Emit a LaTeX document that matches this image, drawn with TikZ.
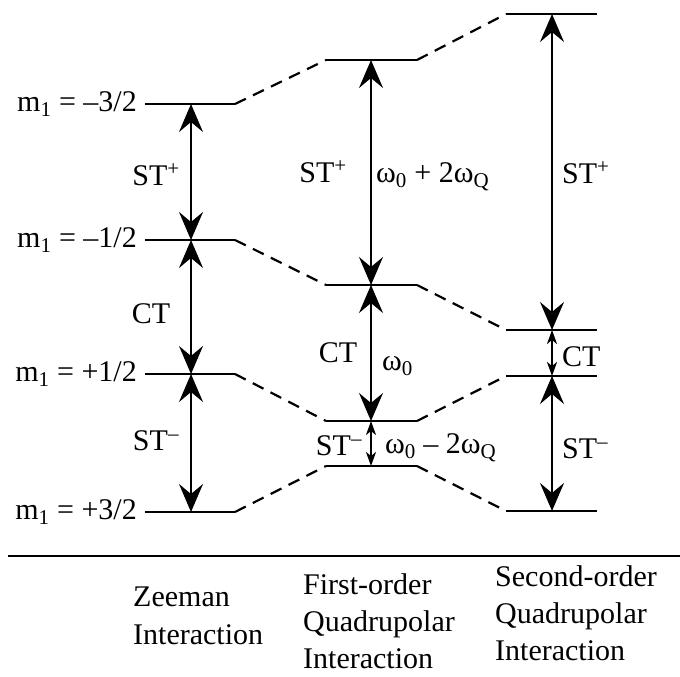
\documentclass[tikz,border=0pt]{standalone}
\usepackage{fontspec}
\setmainfont{Liberation Serif}
\usetikzlibrary{arrows.meta}
\tikzset{
  level/.style={line width=2.6pt},
  link/.style={line width=2.2pt,dash pattern=on 12pt off 8pt},
  bigtrans/.style={{Stealth[length=28pt,width=24pt,inset=10pt]}-{Stealth[length=28pt,width=24pt,inset=10pt]},line width=2pt},
  smalltrans/.style={{Stealth[length=14pt,width=10pt,inset=4pt]}-{Stealth[length=14pt,width=10pt,inset=4pt]},line width=2pt},
  lbl/.style={font=\fontsize{30}{36}\selectfont,inner sep=0pt},
  caption/.style={font=\fontsize{30}{37}\selectfont,inner sep=0pt,align=left,anchor=north west}
}

\begin{document}
\begin{tikzpicture}[x=1pt,y=-1pt]
\useasboundingbox (0,0) rectangle (680,677);

% Zeeman levels
\coordinate (zAl) at (145,104); \coordinate (zAr) at (235,104); \coordinate (zA) at (191,104);
\coordinate (zBl) at (145,240); \coordinate (zBr) at (235,240); \coordinate (zB) at (191,240);
\coordinate (zCl) at (145,374); \coordinate (zCr) at (235,374); \coordinate (zC) at (191,374);
\coordinate (zDl) at (145,512); \coordinate (zDr) at (235,512); \coordinate (zD) at (191,512);

% First-order levels
\coordinate (fAl) at (326,60);  \coordinate (fAr) at (417,60);  \coordinate (fA) at (371,60);
\coordinate (fBl) at (326,285); \coordinate (fBr) at (417,285); \coordinate (fB) at (371,285);
\coordinate (fCl) at (326,421); \coordinate (fCr) at (417,421); \coordinate (fC) at (371,421);
\coordinate (fDl) at (326,466); \coordinate (fDr) at (417,466); \coordinate (fD) at (371,466);

% Second-order levels
\coordinate (sAl) at (506,14);  \coordinate (sAr) at (597,14);  \coordinate (sA) at (552,14);
\coordinate (sBl) at (506,330); \coordinate (sBr) at (597,330); \coordinate (sB) at (552,330);
\coordinate (sCl) at (506,376); \coordinate (sCr) at (597,376); \coordinate (sC) at (552,376);
\coordinate (sDl) at (506,511); \coordinate (sDr) at (597,511); \coordinate (sD) at (552,511);

\draw[level] (zAl) -- (zAr); \draw[level] (zBl) -- (zBr);
\draw[level] (zCl) -- (zCr); \draw[level] (zDl) -- (zDr);
\draw[level] (fAl) -- (fAr); \draw[level] (fBl) -- (fBr);
\draw[level] (fCl) -- (fCr); \draw[level] (fDl) -- (fDr);
\draw[level] (sAl) -- (sAr); \draw[level] (sBl) -- (sBr);
\draw[level] (sCl) -- (sCr); \draw[level] (sDl) -- (sDr);

% Dashed correlation lines
\draw[link] (zAr) -- (fAl); \draw[link] (zBr) -- (fBl);
\draw[link] (zCr) -- (fCl); \draw[link] (zDr) -- (fDl);
\draw[link] (fAr) -- (sAl); \draw[link] (fBr) -- (sBl);
\draw[link] (fCr) -- (sCl); \draw[link] (fDr) -- (sDl);

% Transitions
\draw[bigtrans] (zA) -- (zB); \draw[bigtrans] (zB) -- (zC); \draw[bigtrans] (zC) -- (zD);
\draw[bigtrans] (fA) -- (fB); \draw[bigtrans] (fB) -- (fC); \draw[smalltrans] (fC) -- (fD);
\draw[bigtrans] (sA) -- (sB); \draw[smalltrans] (sB) -- (sC); \draw[bigtrans] (sC) -- (sD);

% Spin labels
\node[lbl,anchor=base east] (mA) at (137,111) {m\textsubscript{1} = –3/2};
\node[lbl,anchor=base east] (mB) at (137,247) {m\textsubscript{1} = –1/2};
\node[lbl,anchor=base east] (mC) at (137,381) {m\textsubscript{1} = +1/2};
\node[lbl,anchor=base east] (mD) at (137,519) {m\textsubscript{1} = +3/2};

% Transition labels
\node[lbl,anchor=base] (zST1) at (156,185) {ST\textsuperscript{+}};
\node[lbl,anchor=base] (zCT) at (151,323) {CT};
\node[lbl,anchor=base] (zST2) at (156,450) {ST\textsuperscript{–}};

\node[lbl,anchor=base] (fST1) at (323,182) {ST\textsuperscript{+}};
\node[lbl,anchor=base west] (fw1) at (376,182) {ω\textsubscript{0} + 2ω\textsubscript{Q}};
\node[lbl,anchor=base] (fCT) at (338,362) {CT};
\node[lbl,anchor=base west] (fw2) at (382,370) {ω\textsubscript{0}};
\node[lbl,anchor=base] (fST2) at (339,455) {ST\textsuperscript{–}};
\node[lbl,anchor=base west] (fw3) at (385,453) {ω\textsubscript{0} – 2ω\textsubscript{Q}};

\node[lbl,anchor=base west] (sST1) at (562,183) {ST\textsuperscript{+}};
\node[lbl,anchor=base west] (sCT) at (562,366) {CT};
\node[lbl,anchor=base west] (sST2) at (562,458) {ST\textsuperscript{–}};

% Baseline and column captions
\coordinate (ruleL) at (8,556); \coordinate (ruleR) at (680,556);
\draw[line width=2pt] (ruleL) -- (ruleR);
\node[caption,font=\fontsize{30}{38}\selectfont] (capZ) at (133,587) {Zeeman\\Interaction};
\node[caption] (capF) at (303,573) {First-order\\Quadrupolar\\Interaction};
\node[caption] (capS) at (495,565) {Second-order\\Quadrupolar\\Interaction};

\end{tikzpicture}
\end{document}
